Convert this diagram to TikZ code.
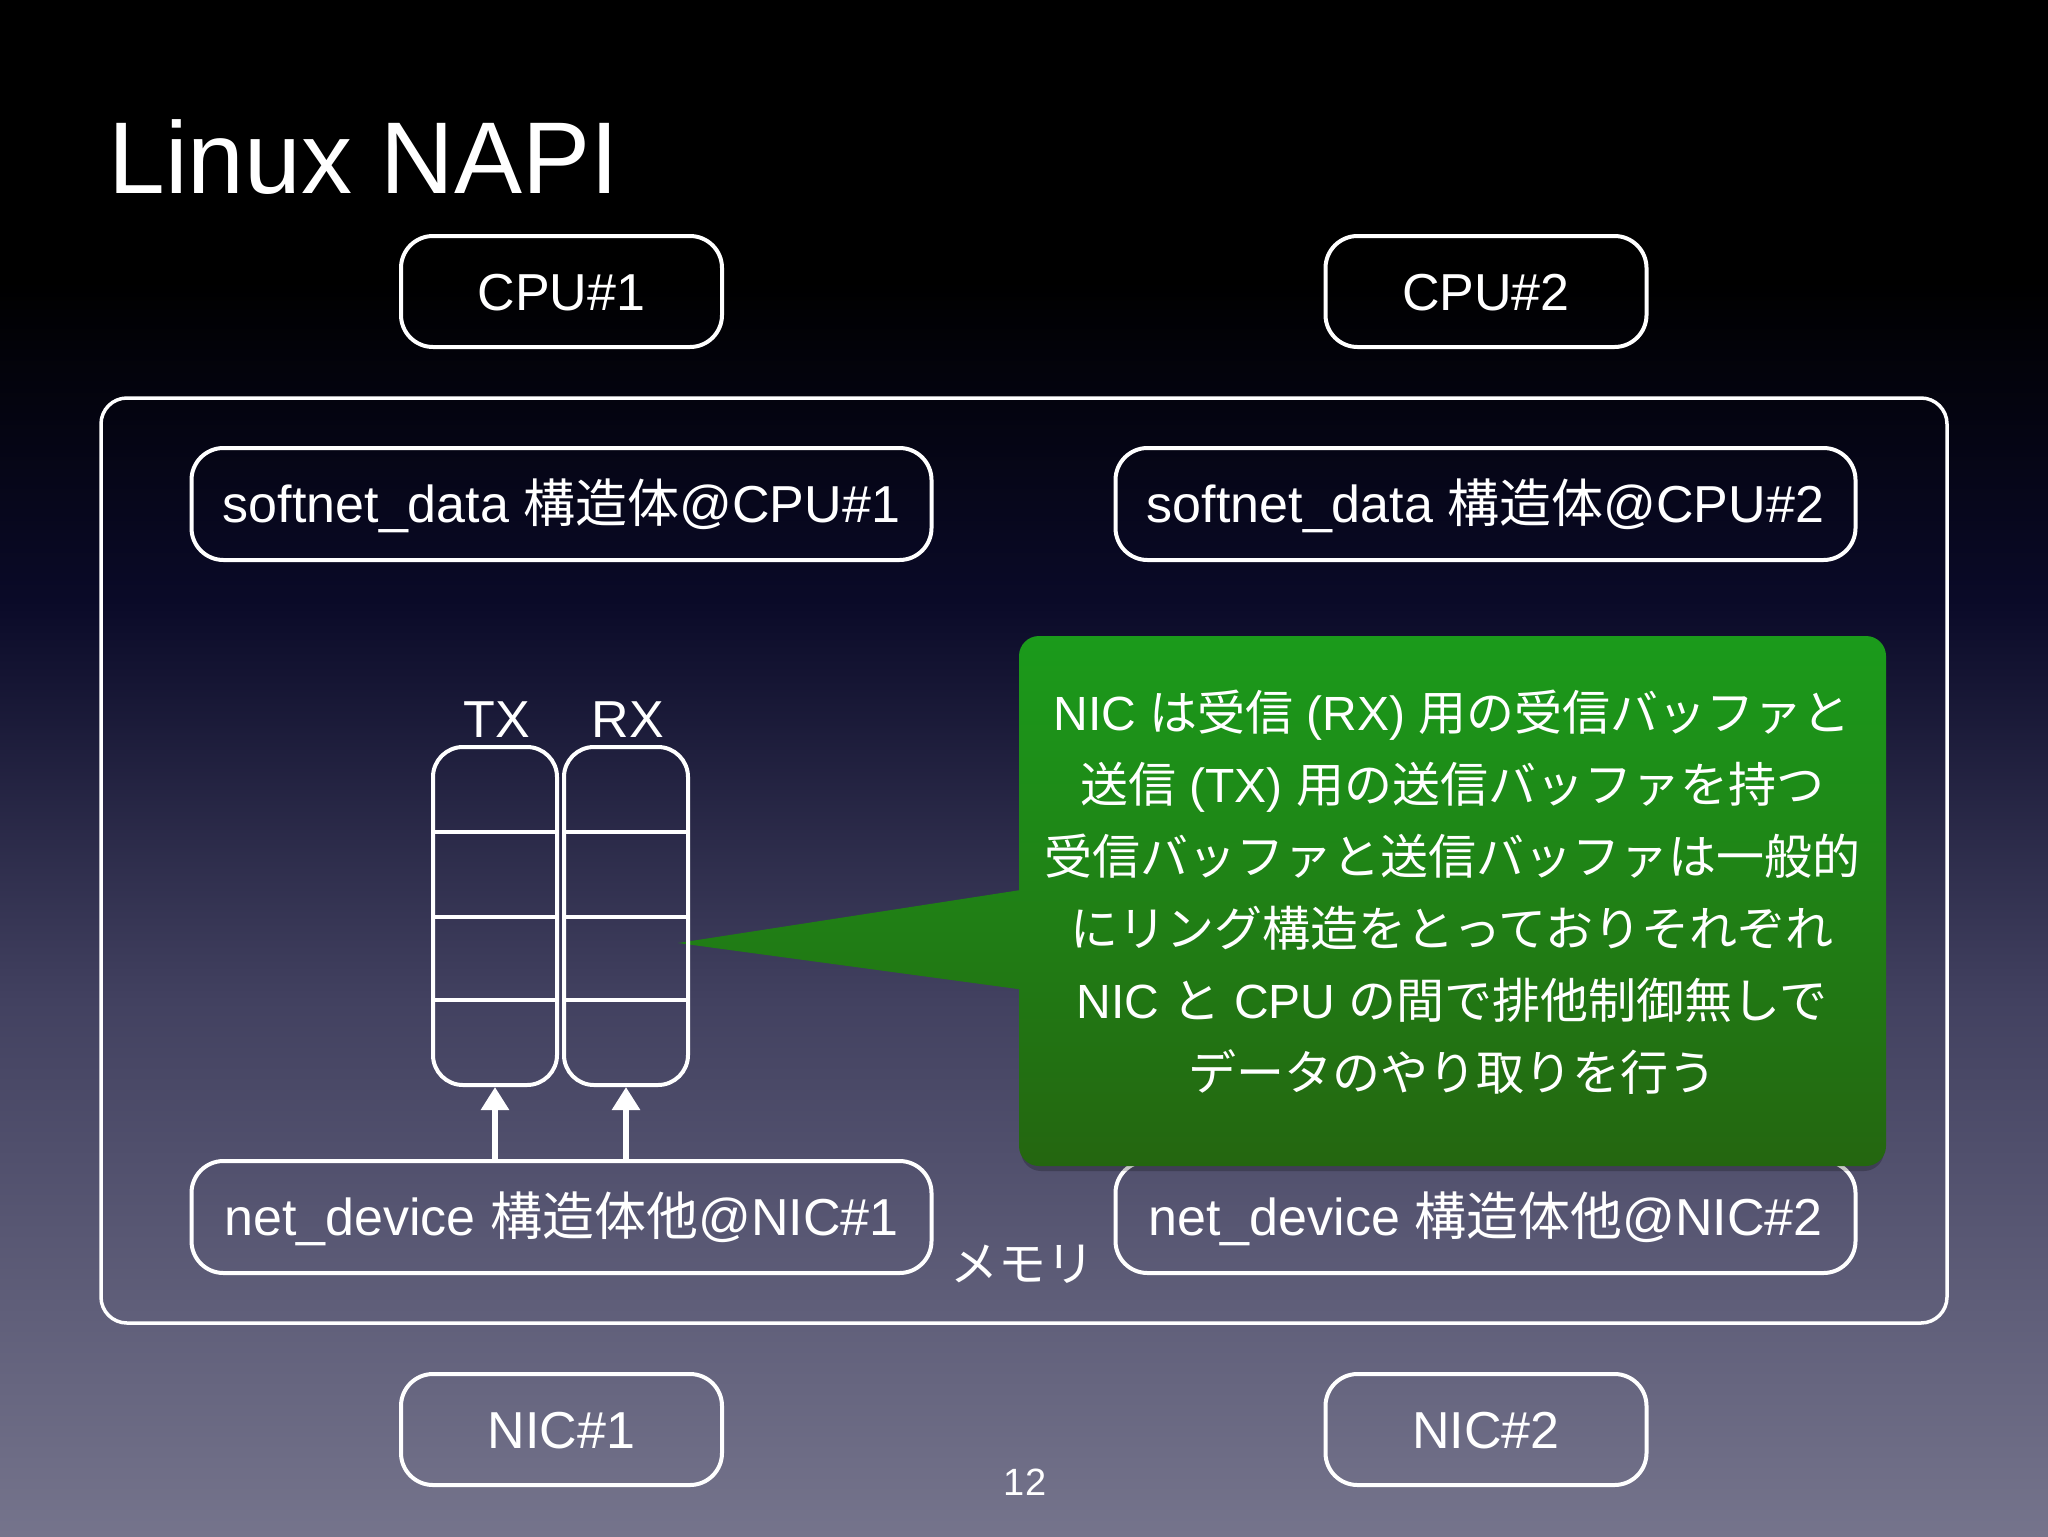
\documentclass[tikz,border=0pt]{standalone}
\usepackage{fontspec}
\setmainfont{Liberation Sans}
\newfontfamily\cjk{Noto Sans CJK JP}
\usetikzlibrary{arrows.meta}
\newcommand{\jp}[1]{{\cjk #1}}
\definecolor{bgA}{RGB}{0,0,0}
\definecolor{bgB}{RGB}{10,10,40}
\definecolor{bgC}{RGB}{66,65,96}
\definecolor{bgD}{RGB}{117,116,140}
\definecolor{gTop}{RGB}{27,155,27}
\definecolor{gBot}{RGB}{36,102,16}
\begin{document}
\begin{tikzpicture}[x=0.5pt,y=-0.5pt,
  wbox/.style={draw=white,line width=2pt,rounded corners=16pt,text=white,
    font=\fontsize{26}{30}\selectfont,text height=18.7pt,text depth=0pt,inner sep=0pt},
  smallbox/.style={wbox,minimum width=160.5pt,minimum height=55.5pt},
  widebox/.style={wbox,minimum width=370pt,minimum height=56pt},
  bufbox/.style={draw=white,line width=2pt,rounded corners=15pt,minimum width=62pt,minimum height=169pt,inner sep=0pt},
  lbl/.style={text=white,inner sep=0pt},
  upArrow/.style={draw=white,line width=3pt,-{Triangle[width=13.5pt,length=11.5pt]}},
  divider/.style={draw=white,line width=2pt}
]
\useasboundingbox (0,0) rectangle (2048,1536);
% background gradient
\fill[bgA] (0,0) rectangle (2048,281);
\shade[top color=bgA,bottom color=bgB] (0,280) rectangle (2048,601);
\shade[top color=bgB,bottom color=bgC] (0,600) rectangle (2048,1001);
\shade[top color=bgC,bottom color=bgD] (0,1000) rectangle (2048,1536);

% title
\node[lbl,anchor=base west,font=\fontsize{51}{58}\selectfont] (title) at (108,193) {Linux NAPI};

% CPUs
\node[smallbox] (cpu1) at (561.5,291.5) {CPU\#1};
\node[smallbox] (cpu2) at (1486,291.5) {CPU\#2};

% memory
\node[draw=white,line width=1.75pt,rounded corners=13pt,minimum width=923pt,minimum height=462.5pt,inner sep=0pt] (mem) at (1024,860.5) {};
\node[lbl,font=\fontsize{24}{28}\selectfont] (memlabel) at (1022,1264) {\jp{メモリ}};

\node[widebox] (sd1) at (561.5,504) {softnet\_data \jp{構造体}@CPU\#1};
\node[widebox] (sd2) at (1485.5,504) {softnet\_data \jp{構造体}@CPU\#2};
\node[widebox] (nd1) at (561.5,1217) {net\_device \jp{構造体他}@NIC\#1};
\node[widebox] (nd2) at (1485.5,1217) {net\_device \jp{構造体他}@NIC\#2};

% NICs
\node[smallbox] (nic1) at (561.5,1429.5) {NIC\#1};
\node[smallbox] (nic2) at (1486,1429.5) {NIC\#2};

% callout
\fill[black,opacity=0.22,yshift=-2.5pt] [rounded corners=10pt] (1021,640) rectangle (1884,1166);
\shade[top color=gTop,bottom color=gBot] [rounded corners=10pt] (1019,636) rectangle (1886,1166)
  [sharp corners] (678,943) -- (1040,992) -- (1040,887) -- cycle;
\node[text=white,align=center,font=\fontsize{24}{36}\selectfont] (note) at (1452,892)
  {NIC \jp{は受信} (RX) \jp{用の受信バッファと}\\
   \jp{送信} (TX) \jp{用の送信バッファを持つ}\\
   \jp{受信バッファと送信バッファは一般的}\\
   \jp{にリング構造をとっておりそれぞれ}\\
   NIC \jp{と} CPU \jp{の間で排他制御無しで}\\
   \jp{データのやり取りを行う}};

% ring buffers
\node[bufbox] (txbuf) at (495,916) {};
\node[bufbox] (rxbuf) at (626,916) {};
\foreach \yy in {832,917,1000}{
  \draw[divider] (txbuf.west |- 0,\yy) -- (txbuf.east |- 0,\yy);
  \draw[divider] (rxbuf.west |- 0,\yy) -- (rxbuf.east |- 0,\yy);
}
\node[lbl,anchor=base,font=\fontsize{26}{30}\selectfont] (txlabel) at (497,737) {TX};
\node[lbl,anchor=base,font=\fontsize{26}{30}\selectfont] (rxlabel) at (628,737) {RX};

% arrows
\draw[upArrow] (txbuf.south |- nd1.north) -- (txbuf.south);
\draw[upArrow] (rxbuf.south |- nd1.north) -- (rxbuf.south);

% page number
\node[lbl,font=\fontsize{19}{22}\selectfont] (pagenum) at (1025,1482) {12};
\end{tikzpicture}
\end{document}
